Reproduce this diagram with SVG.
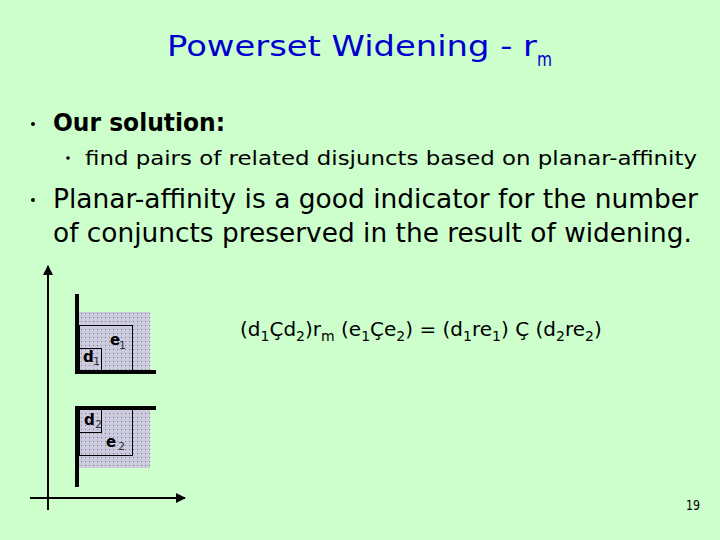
<svg xmlns="http://www.w3.org/2000/svg" width="720" height="540" viewBox="0 0 720 540">
<style>
.t{font-family:"DejaVu Sans","Liberation Sans",sans-serif;fill:#000}
.title{font-family:"DejaVu Sans","Liberation Sans",sans-serif;fill:#0000CC;font-size:29px}
.thick{stroke:#000;stroke-width:4;fill:none}
.thin{stroke:#000;stroke-width:1;fill:none}
.axis{stroke:#000;stroke-width:2;fill:none}
.lbl{font-family:"DejaVu Sans","Liberation Sans",sans-serif;font-size:15px;font-weight:bold;fill:#000}
.sub{font-family:"DejaVu Sans","Liberation Sans",sans-serif;font-size:11px;fill:#333}
</style>
<defs>
<pattern id="dots" width="4" height="4" patternUnits="userSpaceOnUse">
<rect width="4" height="4" fill="#CBCBDD"/>
<rect x="1" y="1" width="1" height="1" fill="#7A7A96"/>
</pattern>
<marker id="arr" viewBox="0 0 10 10" refX="9" refY="5" markerWidth="5" markerHeight="5" orient="auto" markerUnits="strokeWidth">
<path d="M0,0 L10,5 L0,10 z" fill="#000"/>
</marker>
</defs>
<rect width="720" height="540" fill="#CCFFCC"/>
<g id="title">
<text class="title" x="167" y="56" textLength="370" lengthAdjust="spacingAndGlyphs">Powerset Widening - r</text>
<text class="title" x="537" y="66" font-size="19" style="font-size:19px" textLength="15" lengthAdjust="spacingAndGlyphs">m</text>
</g>
<g id="bullets">
<circle cx="33" cy="124" r="2" fill="#000"/>
<text class="t" x="53" y="131" font-size="24" font-weight="bold" textLength="172" lengthAdjust="spacingAndGlyphs">Our solution:</text>
<circle cx="68" cy="158" r="1.8" fill="#000"/>
<text class="t" x="85" y="165" font-size="20" textLength="612" lengthAdjust="spacingAndGlyphs">find pairs of related disjuncts based on planar-affinity</text>
<circle cx="33" cy="200" r="2" fill="#000"/>
<text class="t" x="53" y="208" font-size="26" textLength="645" lengthAdjust="spacingAndGlyphs">Planar-affinity is a good indicator for the number</text>
<text class="t" x="53" y="242" font-size="26" textLength="639" lengthAdjust="spacingAndGlyphs">of conjuncts preserved in the result of widening.</text>
</g>
<g id="equation">
<text class="t" x="240" y="336" font-size="20">(d<tspan font-size="14" dy="5">1</tspan><tspan dy="-5">Ç</tspan>d<tspan font-size="14" dy="5">2</tspan><tspan dy="-5">)r</tspan><tspan font-size="14" dy="5">m</tspan><tspan dy="-5"> (e</tspan><tspan font-size="14" dy="5">1</tspan><tspan dy="-5">Çe</tspan><tspan font-size="14" dy="5">2</tspan><tspan dy="-5">) = (d</tspan><tspan font-size="14" dy="5">1</tspan><tspan dy="-5">re</tspan><tspan font-size="14" dy="5">1</tspan><tspan dy="-5">) Ç (d</tspan><tspan font-size="14" dy="5">2</tspan><tspan dy="-5">re</tspan><tspan font-size="14" dy="5">2</tspan><tspan dy="-5">)</tspan></text>
</g>
<g id="connectors">
<line class="axis" x1="48" y1="510" x2="48" y2="266" marker-end="url(#arr)"/>
<line class="axis" x1="30" y1="498" x2="185" y2="498" marker-end="url(#arr)"/>
</g>
<g id="box1">
<rect x="79" y="312" width="71" height="58" fill="url(#dots)"/>
<rect class="thin" x="79.5" y="325.5" width="53" height="45"/>
<rect class="thin" x="79.5" y="348.5" width="22" height="22"/>
<polyline class="thick" points="77,294 77,372 156,372"/>
<text class="lbl" x="110" y="345">e</text><text class="sub" x="119" y="349">1</text>
<text class="lbl" x="83" y="362">d</text><text class="sub" x="93" y="365">1</text>
</g>
<g id="box2">
<rect x="79" y="410" width="71" height="58" fill="url(#dots)"/>
<rect class="thin" x="79.5" y="409.5" width="53" height="46"/>
<rect class="thin" x="79.5" y="409.5" width="22" height="23"/>
<polyline class="thick" points="77,487 77,408 156,408"/>
<text class="lbl" x="84" y="425">d</text><text class="sub" x="95" y="428">2</text>
<text class="lbl" x="106" y="447">e</text><text class="sub" x="118" y="450">2</text>
</g>
<g id="page">
<text class="t" x="686" y="510" font-size="14" textLength="14" lengthAdjust="spacingAndGlyphs">19</text>
</g>
</svg>
